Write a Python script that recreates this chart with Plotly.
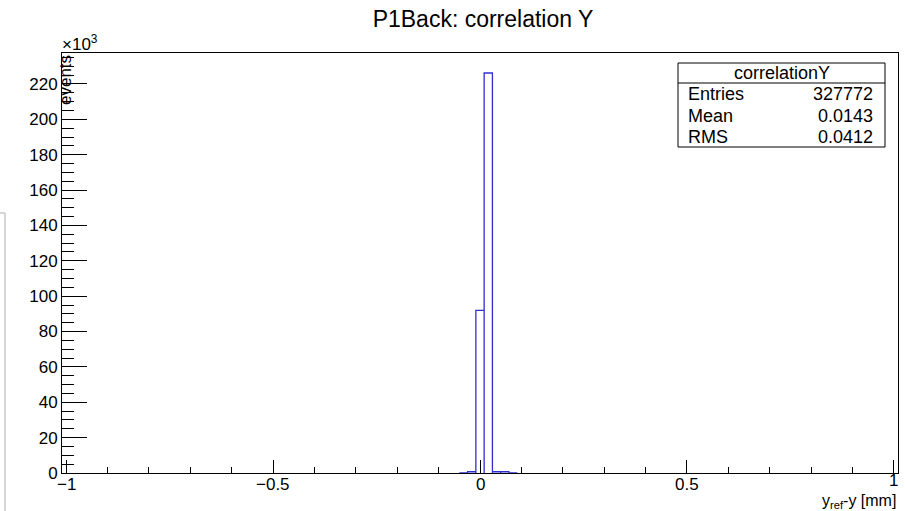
import plotly.graph_objects as go

# ---- data ----
x_min, x_max = -1.01, 1.01          # histogram axis range (101 bins of 0.02)
bin_width = 0.02
bin_centers = [-0.04, -0.02, 0.0, 0.02, 0.04, 0.06, 0.08]
bin_counts = [0, 700, 92000, 226200, 700, 700, 0]

y_max = 237500
y_major = [0, 20000, 40000, 60000, 80000, 100000, 120000, 140000,
           160000, 180000, 200000, 220000]
y_labels = ["0", "20", "40", "60", "80", "100", "120", "140",
            "160", "180", "200", "220"]
x_major = [-1, -0.5, 0, 0.5, 1]
x_labels = ["\u22121", "\u22120.5", "0", "0.5", "1"]

stats_title = "correlationY"
stats_names = ["Entries", "Mean", "RMS"]
stats_values = ["327772", "0.0143", "0.0412"]

# ---- build step outline ----
xs = []
ys = []
for c, n in zip(bin_centers, bin_counts):
    lo, hi = c - bin_width / 2, c + bin_width / 2
    xs += [lo, lo, hi, hi]
    ys += [0, n, n, 0]

FONT = "Liberation Sans, Arial, Helvetica, sans-serif"

fig = go.Figure()
fig.add_trace(go.Scatter(x=xs, y=ys, mode="lines",
                         line=dict(color="#2f2fd0", width=1.3),
                         hoverinfo="skip", showlegend=False))

L, R, T, B = 62, 7, 53, 38
W, H = 905, 511
pw, ph = W - L - R, H - T - B


def px(xp):
    return (xp - L) / pw


def py(yp):
    return (H - B - yp) / ph


fig.update_layout(
    width=W, height=H,
    margin=dict(l=L, r=R, t=T, b=B),
    paper_bgcolor="white", plot_bgcolor="white",
    font=dict(family=FONT, color="black", size=17),
    title=dict(text="P1Back: correlation Y", x=px(483), xref="paper",
               xanchor="center", y=1 - 19 / H, yanchor="middle",
               font=dict(size=23, family=FONT, color="black")),
    xaxis=dict(range=[x_min, x_max], showgrid=False, zeroline=False,
               showline=True, linecolor="black", linewidth=1, mirror=True,
               ticks="inside", ticklen=13, tickcolor="black", tickwidth=1,
               tickvals=x_major, showticklabels=False,
               minor=dict(ticks="inside", ticklen=6, dtick=0.1, tick0=0,
                          tickcolor="black", tickwidth=1, showgrid=False)),
    yaxis=dict(range=[0, y_max], showgrid=False, zeroline=False,
               showline=True, linecolor="black", linewidth=1, mirror=True,
               ticks="inside", ticklen=25, tickcolor="black", tickwidth=1,
               tickvals=y_major, ticktext=y_labels,
               tickfont=dict(size=17, family=FONT),
               minor=dict(ticks="inside", ticklen=12, dtick=5000, tick0=0,
                          tickcolor="black", tickwidth=1, showgrid=False)),
)

shapes = []
# stats box
shapes.append(dict(type="rect", xref="paper", yref="paper",
                   x0=px(678), x1=px(885), y0=py(147), y1=py(63),
                   line=dict(color="black", width=1), fillcolor="white",
                   layer="above"))
shapes.append(dict(type="line", xref="paper", yref="paper",
                   x0=px(678), x1=px(885), y0=py(83), y1=py(83),
                   line=dict(color="black", width=1), layer="above"))
# faint window edge on the far left
shapes.append(dict(type="line", xref="paper", yref="paper",
                   x0=px(5), x1=px(5), y0=py(213), y1=py(511),
                   line=dict(color="#c8c8c8", width=1.5)))
shapes.append(dict(type="line", xref="paper", yref="paper",
                   x0=px(0), x1=px(5), y0=py(213), y1=py(213),
                   line=dict(color="#c8c8c8", width=1.5)))
fig.update_layout(shapes=shapes)

ann = []
# x tick labels (placed via the x axis scale)
for v, t in zip(x_major, x_labels):
    ann.append(dict(text=t, xref="x", yref="paper", x=v,
                    y=py(480 if v == x_major[-1] else 484.5),
                    xanchor="center", yanchor="middle", showarrow=False,
                    font=dict(size=17, family=FONT)))
ann.append(dict(text=stats_title, xref="paper", yref="paper",
                x=px(781.5), y=py(73), xanchor="center", yanchor="middle",
                showarrow=False, font=dict(size=18, family=FONT)))
row_y = [94.3, 116, 136.7]
for name, val, ry in zip(stats_names, stats_values, row_y):
    ann.append(dict(text=name, xref="paper", yref="paper", x=px(686),
                    y=py(ry), xanchor="left", yanchor="middle",
                    showarrow=False, font=dict(size=18, family=FONT)))
    ann.append(dict(text=val, xref="paper", yref="paper", x=px(875),
                    y=py(ry), xanchor="right", yanchor="middle",
                    showarrow=False, font=dict(size=18, family=FONT)))
# exponent label
ann.append(dict(text="\u00d710<sup>3</sup>", xref="paper", yref="paper",
                x=px(60), y=py(56), xanchor="left", yanchor="bottom",
                showarrow=False, font=dict(size=17, family=FONT)))
# y title
ann.append(dict(text="events", xref="paper", yref="paper",
                x=px(65), y=py(53), xanchor="center", yanchor="top",
                textangle=-90, showarrow=False,
                font=dict(size=17, family=FONT)))
# x title
ann.append(dict(text="y<sub>ref</sub>-y [mm]", xref="paper", yref="paper",
                x=px(898), y=py(501), xanchor="right", yanchor="middle",
                showarrow=False, font=dict(size=16, family=FONT)))
fig.update_layout(annotations=ann)

fig.write_html("out.html",
               config={"displayModeBar": False},
               post_script="document.body.style.margin='0';"
                           "document.body.style.overflow='hidden';")
